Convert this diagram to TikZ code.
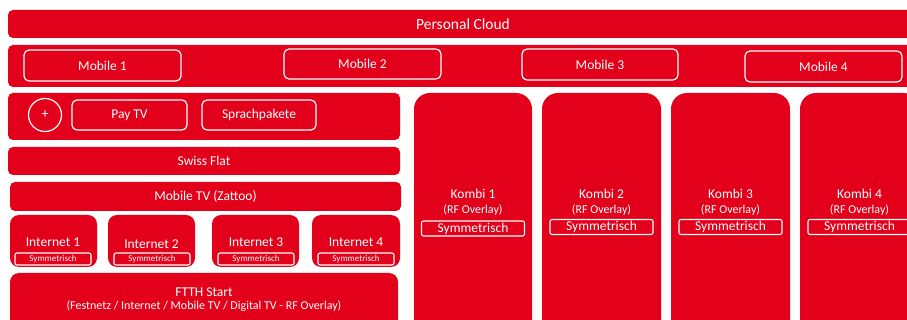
\documentclass[tikz,border=0pt]{standalone}
\usepackage{fontspec}
\setmainfont{Carlito}
\definecolor{brandred}{RGB}{226,0,26}
\tikzset{
  base/.style={inner sep=0pt, outer sep=0pt, text=white},
  bar/.style={base, fill=brandred, rounded corners=5pt},
  tile/.style={base, fill=brandred, rounded corners=9pt},
  tall/.style={base, fill=brandred, rounded corners=16pt},
  outline/.style={base, draw=white, line width=1.2pt, rounded corners=5pt},
  tag/.style={base, draw=white, line width=1.1pt, rounded corners=2pt},
  lbl/.style={base, font=\fontsize{13.5}{16}\selectfont},
  sub/.style={base, font=\fontsize{12}{14}\selectfont},
  tiny/.style={base, font=\fontsize{9}{11}\selectfont},
}
\begin{document}
\begin{tikzpicture}[x=1pt, y=-1pt]
\useasboundingbox (0,0) rectangle (907,320);
\clip (0,0) rectangle (907,320);

% top bars
\node[bar, lbl, minimum width=910pt, minimum height=28pt, font=\fontsize{15.5}{18}\selectfont] (cloud) at (463,24) {Personal Cloud};
\node[bar, minimum width=910pt, minimum height=42pt] (mobrow) at (463,66) {};
\node[outline, lbl, minimum width=157pt, minimum height=31pt] (mob1) at (102.5,65.5) {Mobile 1};
\node[outline, lbl, minimum width=157pt, minimum height=30pt] (mob2) at (362.5,64) {Mobile 2};
\node[outline, lbl, minimum width=156pt, minimum height=31pt] (mob3) at (600,64.5) {Mobile 3};
\node[outline, lbl, minimum width=157pt, minimum height=31pt] (mob4) at (823.5,66.5) {Mobile 4};

% options bar
\node[bar, minimum width=392pt, minimum height=47pt] (opts) at (204,116.5) {};
\node[base, circle, draw=white, line width=1.2pt, minimum size=33pt, font=\fontsize{14}{16}\selectfont] (plus) at (45,115) {+};
\node[outline, lbl, minimum width=115pt, minimum height=30pt] (paytv) at (129.5,115) {Pay TV};
\node[outline, lbl, minimum width=114pt, minimum height=30pt] (sprach) at (259,115) {Sprachpakete};

% stacked services
\node[bar, lbl, minimum width=392pt, minimum height=28pt] (swiss) at (204,161) {Swiss Flat};
\node[bar, lbl, minimum width=391pt, minimum height=29pt] (mobtv) at (205.5,196.5) {Mobile TV (Zattoo)};

% internet tiles
\node[tile, minimum width=87pt, minimum height=52pt] (inet1) at (53.5,241) {};
\node[tile, minimum width=87pt, minimum height=52pt] (inet2) at (151.5,241) {};
\node[tile, minimum width=87pt, minimum height=52pt] (inet3) at (255.5,241) {};
\node[tile, minimum width=88pt, minimum height=52pt] (inet4) at (356,241) {};
\node[lbl] (inet1t) at (53,242) {Internet 1};
\node[lbl] (inet2t) at (151.5,244) {Internet 2};
\node[lbl] (inet3t) at (256,242) {Internet 3};
\node[lbl] (inet4t) at (356,242) {Internet 4};
\node[tag, tiny, minimum width=76pt, minimum height=12pt] (inet1s) at (53,259) {Symmetrisch};
\node[tag, tiny, minimum width=76pt, minimum height=12pt] (inet2s) at (152,259) {Symmetrisch};
\node[tag, tiny, minimum width=76pt, minimum height=12pt] (inet3s) at (256,259) {Symmetrisch};
\node[tag, tiny, minimum width=76pt, minimum height=12pt] (inet4s) at (356,259) {Symmetrisch};

% base product
\node[tile, minimum width=388pt, minimum height=57pt] (ftth) at (204,301.5) {};
\node[lbl] (ftthA) at (204,292) {FTTH Start};
\node[sub] (ftthB) at (204,306) {(Festnetz / Internet / Mobile TV / Digital TV - RF Overlay)};

% combination packages
\foreach \n/\l/\r/\sy in {1/414/532/228.5, 2/542/661/227, 3/671/790/227, 4/800/919/227}{
  \pgfmathsetmacro{\cx}{(\l+\r)/2}
  \pgfmathsetmacro{\w}{\r-\l}
  \node[tall, minimum width=\w pt, minimum height=250pt] (kombi\n) at (\cx,218) {};
  \node[lbl] (kombi\n t) at (\cx,194) {Kombi \n};
  \node[sub] (kombi\n o) at (\cx,210) {(RF Overlay)};
  \node[tag, lbl, minimum width=103pt, minimum height=15pt] (kombi\n s) at (\cx,\sy) {Symmetrisch};
}
\end{tikzpicture}
\end{document}
